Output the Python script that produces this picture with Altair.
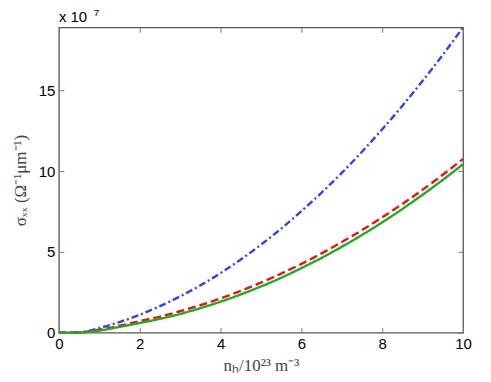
import altair as alt
import pandas as pd

# x: n_h / 10^23 m^-3 ; y: sigma_xx in units of 1e7
x_vals = [0, 0.5, 1, 1.5, 2, 2.5, 3, 3.5, 4, 4.5, 5, 5.5, 6, 6.5, 7, 7.5, 8, 8.5, 9, 9.5, 10]
blue_vals = [0, 0.02, 0.29, 0.66, 1.11, 1.64, 2.25, 2.93, 3.69, 4.53, 5.45, 6.44, 7.52, 8.67,
             9.89, 11.2, 12.59, 14.05, 15.59, 17.2, 18.9]
red_vals = [0, 0.03, 0.18, 0.43, 0.72, 1.0, 1.33, 1.70, 2.12, 2.59, 3.1, 3.66, 4.26, 4.91,
            5.61, 6.35, 7.14, 7.97, 8.85, 9.78, 10.75]
green_vals = [0, 0.01, 0.13, 0.36, 0.6, 0.86, 1.16, 1.52, 1.92, 2.37, 2.86, 3.40, 4.0, 4.63,
              5.32, 6.05, 6.83, 7.66, 8.54, 9.46, 10.43]
series_names = ["blue", "red", "green"]
series_colors = ["#2a44f5", "#ee1111", "#22aa22"]
series_dashes = [[7, 3, 2, 3], [8, 4], [1, 0]]
x_ticks = [0, 2, 4, 6, 8, 10]
y_ticks = [0, 5, 10, 15]

rows = []
for name, vals in zip(series_names, [blue_vals, red_vals, green_vals]):
    for xv, yv in zip(x_vals, vals):
        rows.append({"x": xv, "y": yv, "s": name})
df = pd.DataFrame(rows)

xscale = alt.Scale(domain=[0, 10], nice=False, zero=False)
yscale = alt.Scale(domain=[0, 18.9], nice=False, zero=False)
cscale = alt.Scale(domain=series_names, range=series_colors)
dscale = alt.Scale(domain=series_names, range=series_dashes)

main = alt.Chart(df).mark_line(strokeWidth=2.4, interpolate="monotone").encode(
    x=alt.X("x:Q", scale=xscale,
            axis=alt.Axis(values=x_ticks, orient="bottom", offset=-5, tickSize=5,
                          labelFlush=False,
                          title="nₕ/10²³ m⁻³", titlePadding=6, labelPadding=4)),
    y=alt.Y("y:Q", scale=yscale,
            axis=alt.Axis(values=y_ticks, orient="left", offset=-5, tickSize=5,
                          labelFlush=False,
                          title="σₓₓ (Ω⁻¹μm⁻¹)", titlePadding=9, labelPadding=4)),
    color=alt.Color("s:N", scale=cscale, legend=None),
    strokeDash=alt.StrokeDash("s:N", scale=dscale, legend=None),
)

mirror = alt.Chart(df).mark_line(opacity=0).encode(
    x=alt.X("x:Q", scale=xscale,
            axis=alt.Axis(values=x_ticks, orient="top", offset=-5, tickSize=5,
                          labels=False, title=None)),
    y=alt.Y("y:Q", scale=yscale,
            axis=alt.Axis(values=y_ticks, orient="right", offset=-5, tickSize=5,
                          labels=False, title=None)),
)

mult = alt.Chart(pd.DataFrame({"t": ["x 10"]})).mark_text(
    align="left", baseline="alphabetic", fontSize=15, font="Liberation Sans", color="black"
).encode(x=alt.value(0), y=alt.value(-5), text="t:N")

exp = alt.Chart(pd.DataFrame({"t": ["7"]})).mark_text(
    align="left", baseline="alphabetic", fontSize=10, font="Liberation Sans", color="black"
).encode(x=alt.value(35), y=alt.value(-11), text="t:N")

chart = alt.layer(main, mirror, mult, exp).resolve_axis(
    x="independent", y="independent"
).properties(
    width=405, height=306,
    autosize=alt.AutoSizeParams(type="none"),
    padding={"left": 51, "top": 19, "right": 20, "bottom": 49},
).configure_view(
    stroke="#555555", strokeWidth=1.3
).configure_axis(
    domain=False, grid=False,
    tickColor="#777777", tickWidth=1,
    labelFont="Liberation Sans", labelFontSize=15, labelColor="black",
    titleFont="Liberation Serif", titleFontSize=17, titleFontWeight="normal",
    titleColor="#444444",
)

chart.save("out.html", embed_options={"renderer": "svg", "actions": False})
